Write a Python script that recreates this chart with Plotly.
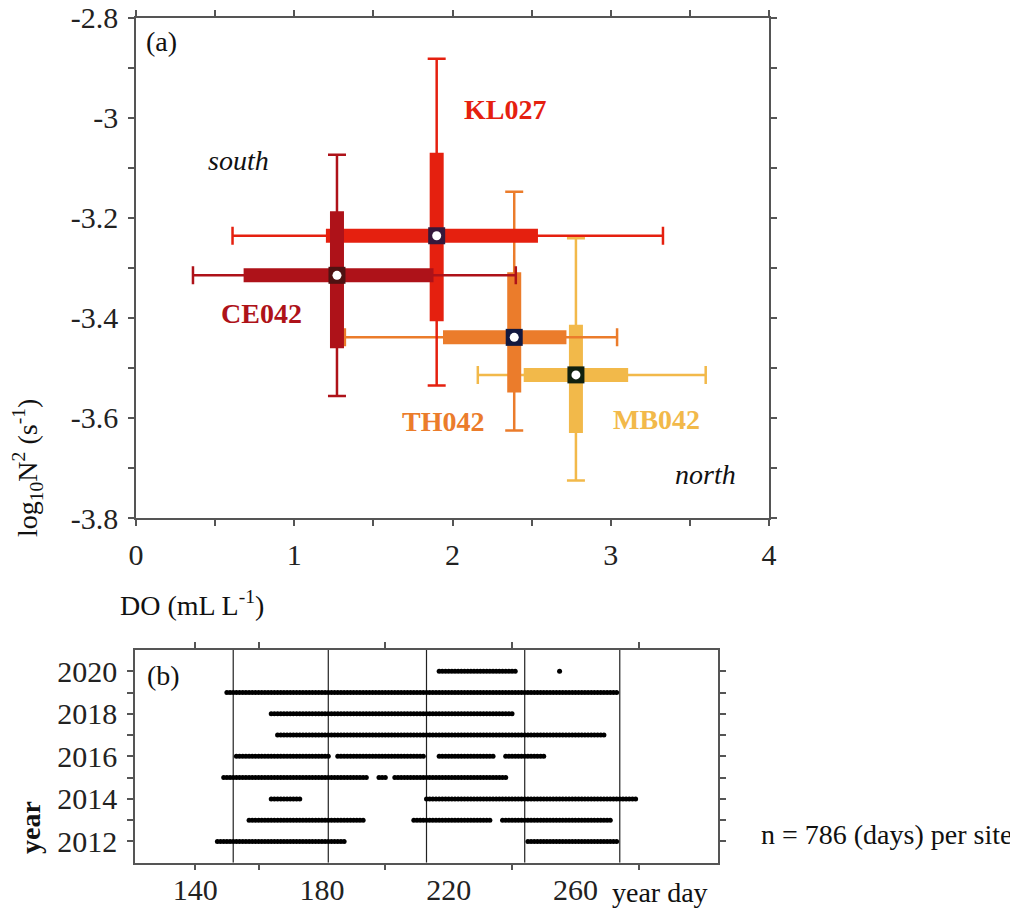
import plotly.graph_objects as go

# ---------------- Panel (a) data ----------------
sites = ["MB042", "TH042", "KL027", "CE042"]          # drawing order (south on top)
site_colors = ["#F2B94A", "#EB7C2B", "#E5200F", "#AE1219"]
center_colors = ["#10200F", "#12183F", "#35183B", "#4E1212"]

do_median = [2.78, 2.39, 1.90, 1.27]
do_q1 = [2.45, 1.94, 1.20, 0.68]
do_q3 = [3.11, 2.72, 2.54, 1.88]
do_min = [2.16, 1.32, 0.61, 0.36]
do_max = [3.60, 3.04, 3.33, 2.40]

n2_median = [-3.514, -3.439, -3.236, -3.315]
n2_q1 = [-3.630, -3.549, -3.407, -3.461]
n2_q3 = [-3.414, -3.309, -3.070, -3.187]
n2_min = [-3.725, -3.625, -3.535, -3.556]
n2_max = [-3.241, -3.148, -2.882, -3.074]

x_ticks_a = [0, 0.5, 1, 1.5, 2, 2.5, 3, 3.5, 4]
x_ticklabels_a = ["0", "", "1", "", "2", "", "3", "", "4"]
y_ticks_a = [-3.8, -3.7, -3.6, -3.5, -3.4, -3.3, -3.2, -3.1, -3.0, -2.9, -2.8]
y_ticklabels_a = ["-3.8", "", "-3.6", "", "-3.4", "", "-3.2", "", "-3", "", "-2.8"]

# ---------------- Panel (b) data ----------------
seg_year = [2012, 2012, 2013, 2013, 2013, 2014, 2014, 2015, 2015, 2015,
            2016, 2016, 2016, 2016, 2017, 2018, 2019, 2020, 2020]
seg_start = [147, 245, 157, 209, 237, 164, 213, 149, 198, 203,
             153, 185, 217, 238, 166, 164, 150, 217, 255]
seg_end = [187, 273, 193, 233, 271, 173, 279, 194, 200, 238,
           182, 212, 234, 250, 269, 240, 273, 241, 255]
month_starts = [152, 182, 213, 244, 274]
x_tickmarks_b = [140, 160, 200, 240, 280]
x_ticklabels_pos_b = [140, 180, 220, 260]
y_ticks_b = [2012, 2013, 2014, 2015, 2016, 2017, 2018, 2019, 2020]
y_ticklabels_b = ["2012", "", "2014", "", "2016", "", "2018", "", "2020"]

FONT = "Liberation Serif"
AXC = "#555555"

# page has an 8px body margin; figure drawn at (8,8)
OFF = 8
W, H = 1018 - OFF, 911 - OFF
def xp(px):
    return (px - OFF) / W
def yp(py):
    return 1 - (py - OFF) / H

fig = go.Figure()

# ---- Panel (a) traces ----
for i, s in enumerate(sites):
    c = site_colors[i]
    fig.add_trace(go.Scatter(
        x=[do_median[i]], y=[n2_median[i]], mode="markers",
        marker=dict(size=1, color="rgba(0,0,0,0)"),
        error_x=dict(type="data", symmetric=False,
                     array=[do_max[i] - do_median[i]],
                     arrayminus=[do_median[i] - do_min[i]],
                     color=c, thickness=2.5, width=9),
        error_y=dict(type="data", symmetric=False,
                     array=[n2_max[i] - n2_median[i]],
                     arrayminus=[n2_median[i] - n2_min[i]],
                     color=c, thickness=2.5, width=9),
        showlegend=False, hoverinfo="skip", xaxis="x", yaxis="y"))
    fig.add_trace(go.Scatter(
        x=[do_q1[i], do_q3[i], None, do_median[i], do_median[i]],
        y=[n2_median[i], n2_median[i], None, n2_q1[i], n2_q3[i]],
        mode="lines", line=dict(color=c, width=14),
        showlegend=False, hoverinfo="skip", xaxis="x", yaxis="y"))
    fig.add_trace(go.Scatter(
        x=[do_median[i]], y=[n2_median[i]], mode="markers",
        marker=dict(symbol="square", size=17, color=center_colors[i], line=dict(width=0)),
        showlegend=False, hoverinfo="skip", xaxis="x", yaxis="y"))
    fig.add_trace(go.Scatter(
        x=[do_median[i]], y=[n2_median[i]], mode="markers",
        marker=dict(symbol="circle", size=9, color="white", line=dict(width=0)),
        showlegend=False, hoverinfo="skip", xaxis="x", yaxis="y"))

# ---- Panel (b) traces ----
vx, vy = [], []
for m in month_starts:
    vx += [m, m, None]
    vy += [2011, 2021, None]
fig.add_trace(go.Scatter(x=vx, y=vy, mode="lines", line=dict(color="#222222", width=1.2),
                         showlegend=False, hoverinfo="skip", xaxis="x2", yaxis="y2"))

dx, dy = [], []
for yr, a, b in zip(seg_year, seg_start, seg_end):
    for d in range(a, b + 1):
        dx.append(d)
        dy.append(yr)
fig.add_trace(go.Scatter(x=dx, y=dy, mode="markers",
                         marker=dict(size=5, color="black", line=dict(width=0)),
                         showlegend=False, hoverinfo="skip", xaxis="x2", yaxis="y2"))
fig.add_trace(go.Scatter(x=[None], y=[None], xaxis="x3", yaxis="y2", showlegend=False))

tickfont = dict(family=FONT, size=30, color="#222222")

fig.update_layout(
    width=W, height=H,
    margin=dict(l=0, r=0, t=0, b=0, autoexpand=False),
    paper_bgcolor="white", plot_bgcolor="white",
    font=dict(family=FONT, size=28, color="#111111"),
    xaxis=dict(domain=[xp(136), xp(769)], range=[0, 4], anchor="y",
               tickmode="array", tickvals=x_ticks_a, ticktext=x_ticklabels_a,
               ticks="outside", ticklen=6, tickwidth=1.5, tickcolor=AXC,
               showline=True, linecolor=AXC, linewidth=1.5, mirror="allticks",
               showgrid=False, zeroline=False, tickfont=tickfont, ticklabelstandoff=3,
               ticklabeloverflow="allow"),
    yaxis=dict(domain=[yp(518), yp(17.6)], range=[-3.8, -2.8], anchor="x",
               tickmode="array", tickvals=y_ticks_a, ticktext=y_ticklabels_a,
               ticks="outside", ticklen=6, tickwidth=1.5, tickcolor=AXC,
               showline=True, linecolor=AXC, linewidth=1.5, mirror="allticks",
               showgrid=False, zeroline=False, tickfont=tickfont, ticklabelstandoff=4,
               ticklabeloverflow="allow"),
    xaxis2=dict(domain=[xp(135), xp(718)], range=[121, 305], anchor="y2",
                tickmode="array", tickvals=x_tickmarks_b, ticktext=[""] * len(x_tickmarks_b),
                ticks="outside", ticklen=6, tickwidth=1.5, tickcolor=AXC,
                showline=True, linecolor=AXC, linewidth=1.5, mirror="allticks",
                showgrid=False, zeroline=False, tickfont=tickfont),
    xaxis3=dict(overlaying="x2", range=[121, 305], anchor="y2", side="bottom",
                tickmode="array", tickvals=x_ticklabels_pos_b,
                ticktext=[str(v) for v in x_ticklabels_pos_b],
                ticks="", showline=False, showgrid=False, zeroline=False,
                tickfont=tickfont, ticklabelstandoff=6, ticklabeloverflow="allow"),
    yaxis2=dict(domain=[yp(862.7), yp(650)], range=[2011, 2021], anchor="x2",
                tickmode="array", tickvals=y_ticks_b, ticktext=y_ticklabels_b,
                ticks="outside", ticklen=6, tickwidth=1.5, tickcolor=AXC,
                showline=True, linecolor=AXC, linewidth=1.5, mirror="allticks",
                showgrid=False, zeroline=False, tickfont=tickfont, ticklabelstandoff=4,
                ticklabeloverflow="allow"),
)

ann = []
def A(text, x, y, xref="x", yref="y", size=28, color="#111111", bold=False, italic=False,
      xanchor="center", yanchor="middle", angle=0):
    t = text
    if bold:
        t = "<b>" + t + "</b>"
    if italic:
        t = "<i>" + t + "</i>"
    ann.append(dict(text=t, x=x, y=y, xref=xref, yref=yref, showarrow=False,
                    xanchor=xanchor, yanchor=yanchor, textangle=angle,
                    font=dict(family=FONT, size=size, color=color)))

# panel (a) texts
A("(a)", 0.05, -2.848, xanchor="left")
A("KL027", 2.33, -2.984, color=site_colors[2], bold=True)
A("CE042", 0.795, -3.392, color=site_colors[3], bold=True)
A("TH042", 1.94, -3.607, color=site_colors[1], bold=True)
A("MB042", 3.29, -3.603, color=site_colors[0], bold=True)
A("south", 0.65, -3.085, italic=True)
A("north", 3.6, -3.713, italic=True)
A("DO (mL L<sup>-1</sup>)", xp(118), yp(603), xref="paper", yref="paper", xanchor="left")
A("log<sub>10</sub>N<sup>2</sup> (s<sup>-1</sup>)", xp(27), yp(468), xref="paper", yref="paper", angle=-90)

# panel (b) texts
A("(b)", 124, 2019.8, xref="x2", yref="y2", xanchor="left")
A("year day", xp(660), yp(892), xref="paper", yref="paper")
A("n = 786 (days) per site", xp(886), yp(834), xref="paper", yref="paper")
A("<b>year</b>", xp(30), yp(828), xref="paper", yref="paper", angle=-90)

fig.update_layout(annotations=ann)

fig.write_html("out.html")
